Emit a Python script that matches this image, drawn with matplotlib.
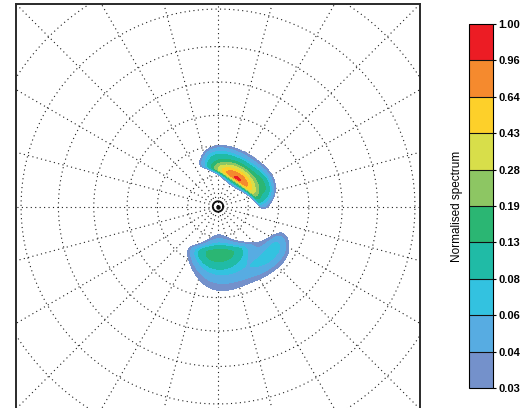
import numpy as np
import matplotlib
matplotlib.use("Agg")
import matplotlib.pyplot as plt
from matplotlib.colors import ListedColormap, BoundaryNorm
from matplotlib.cm import ScalarMappable

plt.rcParams["font.family"] = ["Liberation Sans", "DejaVu Sans"]

# Contour levels of the normalised spectrum and their fill colours
levels = [0.03, 0.04, 0.06, 0.08, 0.13, 0.19, 0.28, 0.43, 0.64, 0.96, 1.00]
level_colors = ["#7491cb", "#57ace2", "#33c2e0", "#20bba6", "#2bb673",
                "#8dc663", "#d8de4a", "#fdd02a", "#f58a2e", "#ec1c24"]
tick_labels = ["%.2f" % v for v in levels]

# Polar grid (radius in axis units, direction spokes in degrees)
ring_radii = [0.15, 0.30, 0.45, 0.615, 0.79, 0.975, 1.185]
spoke_dirs = list(range(0, 360, 15))

# Spectral partitions: amplitude, peak radius, peak direction (deg),
# inner / outer radial spread, radial tail exponent,
# clockwise / anticlockwise angular spread (deg), outward bend of the ridge
part_amp = [1.00, 0.09, 0.05, 0.18, 0.068]
part_r0 = [0.168, 0.245, 0.245, 0.233, 0.345]
part_dir = [56, 25, 92, 271, 322]
part_sr_in = [0.0144, 0.030, 0.040, 0.027, 0.045]
part_sr_out = [0.042, 0.045, 0.060, 0.051, 0.065]
part_nu = [1.5, 1.5, 1.5, 0.7, 1.0]
part_sd_cw = [22, 12, 14, 19, 20]
part_sd_ccw = [21, 12, 12, 21, 12]
part_bend = [0.030, 0.0, 0.0, 0.025, 0.0]

fig = plt.figure(figsize=(5.28, 4.08), dpi=100)
ax = fig.add_axes([0.0303, -0.0025, 0.7652, 0.9927])
ax.set_xlim(-1, 1)
ax.set_ylim(-1, 1)
ax.set_xticks([])
ax.set_yticks([])
for s in ax.spines.values():
    s.set_linewidth(1.4)
    s.set_color("#2a2a2a")

# Dotted polar grid
grid_kw = dict(color="#1e1e1e", lw=0.8, ls=(0, (1, 3)), zorder=1)
t = np.linspace(0, 2 * np.pi, 721)
for rr in ring_radii:
    ax.plot(rr * np.cos(t), rr * np.sin(t), **grid_kw)
for d in spoke_dirs:
    a = np.deg2rad(d)
    ax.plot([0, 1.5 * np.cos(a)], [0, 1.5 * np.sin(a)], **grid_kw)
ax.plot(0.026 * np.cos(t), 0.026 * np.sin(t), color="#111", lw=1.3, zorder=2)
ax.plot([0], [0], "o", ms=2.2, color="#111", zorder=2)

# Spectral field built from the partitions, normalised to its peak
n = 700
xs = np.linspace(-1, 1, n)
X, Y = np.meshgrid(xs, xs)
R = np.hypot(X, Y)
TH = np.degrees(np.arctan2(Y, X)) % 360
E = np.zeros_like(X)
for A, r0, d0, si, so, nu, sc, sa, bd in zip(part_amp, part_r0, part_dir,
                                             part_sr_in, part_sr_out, part_nu,
                                             part_sd_cw, part_sd_ccw,
                                             part_bend):
    dth = (TH - d0 + 180) % 360 - 180
    sd = np.where(dth < 0, sc, sa)
    ridge = r0 + bd * (dth / 45.0) ** 2
    dr = R - ridge
    sr = np.where(dr < 0, si, so)
    E += A * (1 + (dr / sr) ** 2) ** (-nu) * np.exp(-0.5 * (dth / sd) ** 2)
E = E / E.max() * 0.999

ax.contourf(X, Y, E, levels=levels, colors=level_colors, zorder=3)

# Colour bar
cmap = ListedColormap(level_colors)
norm = BoundaryNorm(levels, cmap.N)
cax = fig.add_axes([0.888, 0.049, 0.0455, 0.892])
cb = fig.colorbar(ScalarMappable(norm=norm, cmap=cmap), cax=cax,
                  spacing="uniform", ticks=levels, drawedges=True)
cb.outline.set_linewidth(0.8)
cb.dividers.set_linewidth(0.8)
cb.dividers.set_color("#111")
cax.set_yticklabels(tick_labels, fontsize=8, fontweight="bold")
cax.tick_params(length=2, width=0.8, pad=2)
cax.yaxis.set_label_position("left")
cax.set_ylabel("Normalised spectrum", fontsize=8.5, labelpad=4)

fig.savefig("out.png", dpi=100)
